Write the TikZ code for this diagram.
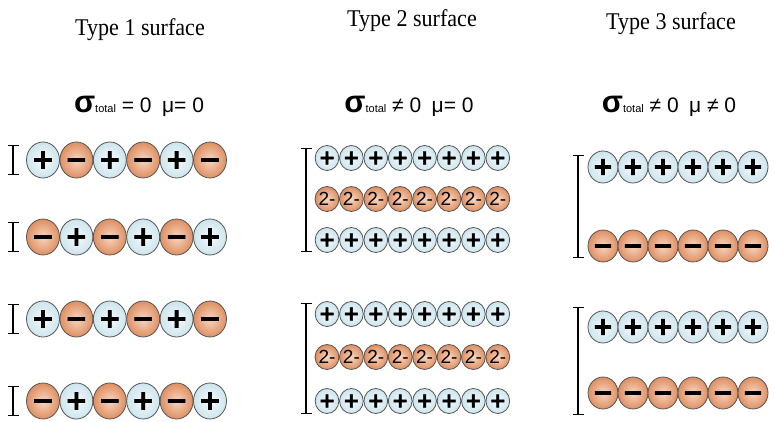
\documentclass[tikz,border=0pt]{standalone}
\usepackage{fontspec}
\setmainfont{Liberation Serif}
\setsansfont{Liberation Sans}
\newfontfamily\titlefont{Liberation Serif}[FakeStretch=0.92]
\newfontfamily\signfont{DejaVu Sans Bold}[FakeBold=2.5]
\usetikzlibrary{shapes.geometric,arrows.meta}

\definecolor{catfill}{HTML}{CDE5ED}
\definecolor{catcore}{HTML}{F4FAFC}
\definecolor{anfill}{HTML}{DE8F62}
\definecolor{ancore}{HTML}{F8D6C0}
\definecolor{ionline}{HTML}{555555}

\newcommand\sig{{\fontsize{31}{31}\selectfont\bfseries σ}{\fontsize{11}{11}\selectfont total}}
\newcommand\mn{\vphantom{+}−}

\tikzset{
  title/.style={font=\titlefont\fontsize{24}{28}\selectfont},
  charge/.style={font=\sffamily\fontsize{21}{24}\selectfont},
  ion/.style={ellipse, draw=ionline, line width=0.8pt, inner sep=0pt},
  cat/.style={ion, inner color=catcore, outer color=catfill},
  an/.style={ion, inner color=ancore, outer color=anfill},
  big/.style={minimum width=33pt, minimum height=36pt, font=\signfont\bfseries\fontsize{27}{27}\selectfont},
  mid/.style={minimum width=30pt, minimum height=32pt, font=\signfont\bfseries\fontsize{25}{25}\selectfont},
  small/.style={minimum width=23.5pt, minimum height=25pt, font=\signfont\bfseries\fontsize{20}{20}\selectfont},
  twominus/.style={font=\sffamily\fontsize{19}{19}\selectfont},
  thickbar/.style={line width=1.3pt, {Bar[width=11pt]}-{Bar[width=11pt]}}
}

\begin{document}
\begin{tikzpicture}[x=1pt,y=-1pt]
\useasboundingbox (0,0) rectangle (775,422);

\node[title] (title1) at (140,30) {Type 1 surface};
\node[title] (title2) at (412,21) {Type 2 surface};
\node[title] (title3) at (671,24) {Type 3 surface};

\node[charge] (q1) at (139,106) {\sig\ = 0\enspace μ= 0};
\node[charge] (q2) at (409,106) {\sig\ ≠ 0\enspace μ= 0};
\node[charge] (q3) at (669,106) {\sig\ ≠ 0\enspace μ ≠ 0};

% type 1
\foreach \y/\r in {160/1,319/3} {
  \foreach \c in {1,3,5} \node[cat,big] (a\r-\c) at ({43+33.4*(\c-1)},\y) {+};
  \foreach \c in {2,4,6} \node[an,big] (a\r-\c) at ({43+33.4*(\c-1)},\y) {\mn};
}
\foreach \y/\r in {237/2,401/4} {
  \foreach \c in {2,4,6} \node[cat,big] (a\r-\c) at ({43+33.4*(\c-1)},\y) {+};
  \foreach \c in {1,3,5} \node[an,big] (a\r-\c) at ({43+33.4*(\c-1)},\y) {\mn};
}
\foreach \y/\r in {160/1,237/2,319/3,401/4} {
  \coordinate (a\r top) at (13,\y-15);
  \coordinate (a\r bot) at (13,\y+15);
  \draw[thickbar] (a\r top) -- (a\r bot);
}

% type 2
\foreach \y/\r in {158/1,240/3,314/4,401/6}
  \foreach \c in {1,...,8} \node[cat,small] (b\r-\c) at ({327+24.4*(\c-1)},\y) {+};
\foreach \y/\r in {199/2,357/5}
  \foreach \c in {1,...,8} \node[an,small,twominus] (b\r-\c) at ({327+24.4*(\c-1)},\y) {2-};
\coordinate (b1top) at (306,148);
\coordinate (b1bot) at (306,252);
\coordinate (b2top) at (306,303);
\coordinate (b2bot) at (306,414);
\draw[thickbar] (b1top) -- (b1bot);
\draw[thickbar] (b2top) -- (b2bot);

% type 3
\foreach \y/\r in {167/1,327/3}
  \foreach \c in {1,...,6} \node[cat,mid] (c\r-\c) at ({603+30*(\c-1)},\y) {+};
\foreach \y/\r in {246/2,393/4}
  \foreach \c in {1,...,6} \node[an,mid] (c\r-\c) at ({603+30*(\c-1)},\y) {\mn};
\coordinate (c1top) at (578,155);
\coordinate (c1bot) at (578,258);
\coordinate (c2top) at (578,307);
\coordinate (c2bot) at (578,415);
\draw[thickbar] (c1top) -- (c1bot);
\draw[thickbar] (c2top) -- (c2bot);

\end{tikzpicture}
\end{document}
